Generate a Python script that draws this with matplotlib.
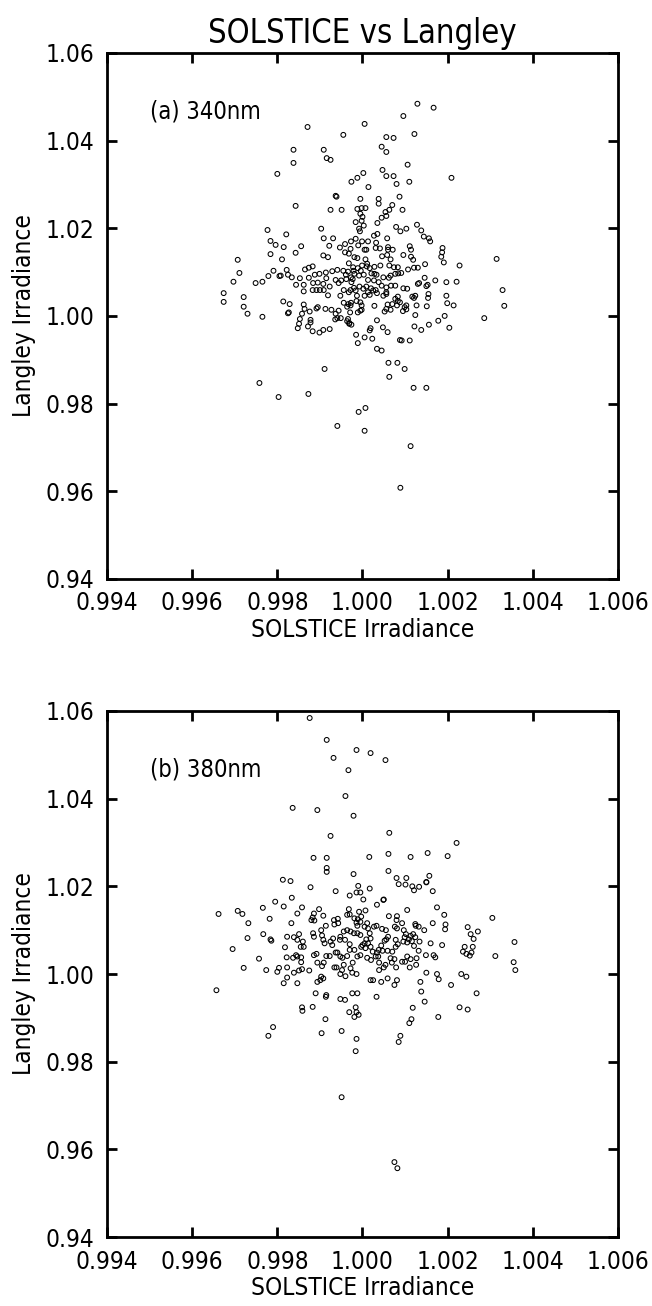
import numpy as np
import matplotlib
matplotlib.use("Agg")
import matplotlib.pyplot as plt
from matplotlib import font_manager

# pick a narrow sans if one is installed
names = {f.name for f in font_manager.fontManager.ttflist}
if "Liberation Sans Narrow" in names:
    plt.rcParams['font.family'] = ['Liberation Sans Narrow', 'DejaVu Sans']
else:
    plt.rcParams['font.family'] = ['DejaVu Sans']
    plt.rcParams['font.stretch'] = 'condensed'

# axis ticks
x_ticks = [0.994, 0.996, 0.998, 1.000, 1.002, 1.004, 1.006]
x_labels = ['0.994', '0.996', '0.998', '1.000', '1.002', '1.004', '1.006']
y_ticks = [0.94, 0.96, 0.98, 1.00, 1.02, 1.04, 1.06]
y_labels = ['0.94', '0.96', '0.98', '1.00', '1.02', '1.04', '1.06']

# (a) 340nm : (SOLSTICE, Langley) pairs, dense core
pts_340_core = [
    (0.99821, 1.0186), (0.99815, 1.0157), (0.99843, 1.0144), (0.99856, 1.0159), (0.99903, 1.0199),
    (0.99909, 1.0177), (0.99931, 1.0177), (0.99922, 1.0160), (0.99908, 1.0138), (0.99919, 1.0134),
    (0.99947, 1.0156), (0.99959, 1.0164), (0.99973, 1.0170), (0.99984, 1.0176), (0.99972, 1.0153),
    (0.99959, 1.0145), (0.99968, 1.0142), (0.99981, 1.0134), (0.99988, 1.0132), (0.99992, 1.0199),
    (0.99994, 1.0193), (1.00003, 1.0206), (0.99999, 1.0170), (1.00013, 1.0170), (0.99990, 1.0161),
    (1.00005, 1.0151), (1.00009, 1.0151), (1.00027, 1.0183), (1.00035, 1.0187), (1.00032, 1.0167),
    (1.00031, 1.0155), (1.00041, 1.0154), (1.00058, 1.0177), (1.00060, 1.0157), (1.00060, 1.0151),
    (1.00071, 1.0151), (1.00046, 1.0136), (1.00058, 1.0139), (1.00066, 1.0129), (1.00079, 1.0203),
    (1.00089, 1.0193), (1.00103, 1.0199), (1.00128, 1.0208), (1.00138, 1.0195), (1.00144, 1.0181),
    (1.00156, 1.0177), (1.00159, 1.0170), (1.00111, 1.0159), (1.00114, 1.0151), (1.00096, 1.0139),
    (1.00114, 1.0135), (1.00119, 1.0128), (1.00188, 1.0155), (1.00187, 1.0145), (1.00185, 1.0135),
    (1.00191, 1.0122), (1.00228, 1.0115), (1.00147, 1.0118), (1.00130, 1.0110), (1.00121, 1.0110),
    (1.00107, 1.0106), (1.00083, 1.0111), (1.00074, 1.0111), (1.00063, 1.0115), (1.00042, 1.0115),
    (1.00028, 1.0112), (1.00011, 1.0119), (1.00017, 1.0109), (1.00007, 1.0129), (0.99968, 1.0120),
    (0.99999, 1.0115), (0.99989, 1.0109), (0.99978, 1.0111), (0.99966, 1.0101), (0.99961, 1.0094),
    (0.99955, 1.0103), (0.99941, 1.0105), (0.99929, 1.0102), (0.99914, 1.0099), (0.99899, 1.0096),
    (0.99883, 1.0113), (0.99874, 1.0110), (0.99865, 1.0106), (0.99822, 1.0105), (0.99825, 1.0094),
    (0.99834, 1.0088), (0.99853, 1.0086), (0.99874, 1.0087), (0.99888, 1.0094), (0.99915, 1.0086),
    (0.99908, 1.0073), (0.99895, 1.0076), (0.99884, 1.0075), (0.99862, 1.0071), (0.99844, 1.0071),
    (0.99862, 1.0056), (0.99883, 1.0059), (0.99892, 1.0059), (0.99900, 1.0059), (0.99909, 1.0059),
    (0.99919, 1.0047), (0.99923, 1.0067), (0.99937, 1.0082), (0.99950, 1.0081), (0.99944, 1.0075),
    (0.99962, 1.0084), (0.99973, 1.0088), (0.99974, 1.0077), (0.99977, 1.0084), (0.99979, 1.0103),
    (0.99981, 1.0096), (0.99996, 1.0103), (0.99992, 1.0092), (1.00003, 1.0094), (1.00010, 1.0113),
    (1.00021, 1.0097), (1.00028, 1.0096), (1.00033, 1.0094), (1.00013, 1.0082), (1.00027, 1.0081),
    (1.00009, 1.0067), (1.00002, 1.0062), (1.00020, 1.0063), (1.00025, 1.0058), (1.00031, 1.0059),
    (1.00013, 1.0054), (1.00017, 1.0048), (1.00005, 1.0046), (0.99993, 1.0067), (0.99980, 1.0064),
    (0.99984, 1.0058), (0.99972, 1.0059), (0.99968, 1.0054), (0.99956, 1.0059), (0.99948, 1.0046),
    (0.99956, 1.0030), (0.99967, 1.0027), (0.99973, 1.0030), (0.99986, 1.0034), (0.99995, 1.0031),
    (0.99998, 1.0024), (0.99995, 1.0012), (0.99989, 1.0008), (0.99998, 1.0014), (0.99972, 1.0024),
    (0.99964, 1.0021), (0.99971, 1.0008), (0.99987, 1.0046), (1.00045, 1.0069), (1.00049, 1.0088),
    (1.00062, 1.0087), (1.00066, 1.0092), (1.00077, 1.0096), (1.00084, 1.0097), (1.00091, 1.0098),
    (1.00067, 1.0069), (1.00077, 1.0069), (1.00056, 1.0065), (1.00056, 1.0054), (1.00056, 1.0050),
    (1.00049, 1.0046), (1.00034, 1.0052), (1.00038, 1.0077), (1.00096, 1.0063), (1.00105, 1.0062),
    (1.00083, 1.0044), (1.00077, 1.0039), (1.00083, 1.0034), (1.00088, 1.0031), (1.00081, 1.0024),
    (1.00070, 1.0027), (1.00059, 1.0026), (1.00056, 1.0016), (1.00066, 1.0014), (1.00052, 1.0010),
    (1.00028, 1.0023), (1.00099, 1.0020), (1.00103, 1.0024), (1.00095, 1.0011), (1.00103, 1.0015),
    (1.00121, 1.0041), (1.00124, 1.0046), (1.00117, 1.0044), (1.00130, 1.0073), (1.00133, 1.0075),
    (1.00146, 1.0087), (1.00153, 1.0071), (1.00150, 1.0068), (1.00171, 1.0081), (1.00197, 1.0077),
    (1.00221, 1.0078), (1.00155, 1.0050), (1.00154, 1.0041), (1.00151, 1.0022), (1.00197, 1.0046),
    (1.00199, 1.0029), (1.00214, 1.0024), (1.00127, 1.0024), (1.00124, 1.0002), (1.00156, 0.9980),
    (1.00178, 0.9989), (1.00193, 1.0000), (1.00204, 0.9973), (1.00122, 0.9976), (1.00138, 0.9968),
    (1.00111, 0.9944), (1.00088, 0.9945), (1.00092, 0.9944), (1.00059, 0.9963), (1.00048, 0.9974),
    (1.00034, 0.9990), (1.00023, 0.9948), (1.00019, 0.9972), (1.00017, 0.9967), (1.00005, 0.9951),
    (0.99989, 0.9938), (0.99985, 0.9957), (0.99969, 0.9982), (0.99966, 0.9993), (0.99964, 0.9988),
    (0.99941, 0.9995), (0.99949, 0.9995), (0.99936, 0.9992), (0.99937, 1.0005), (0.99944, 1.0012),
    (0.99927, 1.0014), (0.99913, 1.0016), (0.99895, 1.0020), (0.99892, 1.0017), (0.99876, 1.0010),
    (0.99862, 1.0026), (0.99864, 1.0016), (0.99858, 1.0005), (0.99853, 0.9993), (0.99851, 0.9982),
    (0.99848, 0.9972), (0.99872, 0.9976), (0.99878, 0.9985), (0.99878, 0.9991), (0.99883, 0.9965),
    (0.99899, 0.9962), (0.99908, 0.9968), (0.99923, 0.9970), (0.99827, 1.0008), (0.99825, 1.0006),
    (0.99829, 1.0027), (0.99814, 1.0033), (0.99808, 1.0092), (0.99811, 1.0129), (1.00034, 0.9925),
    (1.00045, 0.9921), (0.99974, 0.9980), (0.99969, 0.9984),
]

# (a) 340nm : outlying points
pts_340_outer = [
    (0.99871, 1.0431), (0.99955, 1.0413), (0.99838, 1.0379), (0.99909, 1.0379), (0.99916, 1.0360),
    (0.99925, 1.0356), (0.99838, 1.0349), (0.99800, 1.0324), (0.99937, 1.0274), (0.99939, 1.0272),
    (0.99843, 1.0251), (0.99925, 1.0242), (0.99951, 1.0242), (0.99777, 1.0196), (0.99784, 1.0171),
    (0.99796, 1.0162), (0.99784, 1.0141), (0.99707, 1.0128), (0.99711, 1.0098), (0.99697, 1.0078),
    (0.99674, 1.0052), (0.99721, 1.0043), (0.99749, 1.0075), (0.99765, 1.0078), (0.99779, 1.0091),
    (0.99791, 1.0103), (0.99805, 1.0091), (1.00129, 1.0484), (1.00167, 1.0475), (1.00096, 1.0456),
    (1.00005, 1.0438), (1.00056, 1.0408), (1.00073, 1.0406), (1.00122, 1.0415), (1.00045, 1.0386),
    (1.00056, 1.0374), (1.00106, 1.0345), (1.00047, 1.0333), (1.00002, 1.0326), (0.99988, 1.0315),
    (0.99974, 1.0306), (1.00056, 1.0319), (1.00073, 1.0319), (1.00080, 1.0301), (1.00110, 1.0306),
    (1.00014, 1.0294), (1.00209, 1.0315), (1.00087, 1.0272), (1.00038, 1.0267), (1.00038, 1.0256),
    (0.99995, 1.0267), (0.99988, 1.0244), (0.99998, 1.0246), (1.00007, 1.0246), (1.00070, 1.0253),
    (1.00054, 1.0237), (1.00056, 1.0228), (1.00063, 1.0242), (1.00094, 1.0242), (0.99995, 1.0233),
    (1.00000, 1.0226), (0.99998, 1.0217), (0.99984, 1.0214), (1.00045, 1.0224), (1.00035, 1.0212),
    (1.00315, 1.0130), (1.00329, 1.0059), (1.00333, 1.0023), (1.00286, 0.9995), (0.99674, 1.0032),
    (0.99721, 1.0021), (0.99730, 1.0005), (0.99765, 0.9998), (0.99911, 0.9879), (0.99758, 0.9847),
    (0.99803, 0.9815), (0.99873, 0.9822), (0.99941, 0.9749), (0.99991, 0.9781), (1.00063, 0.9861),
    (1.00120, 0.9836), (1.00150, 0.9836), (1.00082, 0.9893), (1.00099, 0.9879), (1.00061, 0.9893),
    (1.00007, 0.9790), (1.00005, 0.9738), (1.00113, 0.9703), (1.00089, 0.9608),
]

# (b) 380nm : dense core
pts_380_core = [
    (0.99813, 1.0215), (0.99831, 1.0212), (0.99878, 1.0198), (0.99937, 1.0189), (0.99970, 1.0179),
    (0.99990, 1.0201), (0.99986, 1.0186), (0.99995, 1.0186), (1.00017, 1.0195), (1.00002, 1.0170),
    (1.00050, 1.0170), (1.00049, 1.0169), (1.00034, 1.0158), (1.00085, 1.0205), (1.00101, 1.0204),
    (1.00117, 1.0200), (1.00133, 1.0199), (1.00150, 1.0209), (1.00121, 1.0191), (1.00165, 1.0189),
    (0.99834, 1.0174), (0.99795, 1.0165), (0.99766, 1.0151), (0.99815, 1.0154), (0.99858, 1.0152),
    (0.99847, 1.0138), (0.99782, 1.0126), (0.99833, 1.0116), (0.99886, 1.0138), (0.99883, 1.0129),
    (0.99880, 1.0123), (0.99887, 1.0122), (0.99898, 1.0148), (0.99908, 1.0133), (0.99914, 1.0110),
    (0.99933, 1.0123), (0.99942, 1.0126), (0.99943, 1.0116), (0.99934, 1.0113), (0.99968, 1.0148),
    (0.99964, 1.0135), (0.99970, 1.0136), (0.99992, 1.0142), (0.99981, 1.0127), (0.99986, 1.0117),
    (0.99989, 1.0125), (0.99988, 1.0110), (1.00007, 1.0145), (0.99997, 1.0131), (0.99995, 1.0119),
    (1.00005, 1.0108), (1.00011, 1.0116), (1.00013, 1.0104), (1.00017, 1.0093), (1.00033, 1.0110),
    (1.00027, 1.0108), (1.00046, 1.0103), (1.00055, 1.0100), (1.00062, 1.0132), (1.00081, 1.0132),
    (1.00080, 1.0123), (1.00076, 1.0108), (1.00081, 1.0104), (1.00093, 1.0116), (1.00105, 1.0146),
    (1.00124, 1.0114), (1.00125, 1.0110), (1.00132, 1.0108), (1.00145, 1.0100), (1.00165, 1.0116),
    (1.00195, 1.0113), (1.00194, 1.0102), (1.00175, 1.0152), (1.00192, 1.0135), (0.99767, 1.0091),
    (0.99784, 1.0079), (0.99786, 1.0076), (0.99823, 1.0085), (0.99818, 1.0061), (0.99839, 1.0084),
    (0.99847, 1.0078), (0.99851, 1.0091), (0.99860, 1.0074), (0.99855, 1.0062), (0.99862, 1.0062),
    (0.99884, 1.0093), (0.99886, 1.0085), (0.99903, 1.0100), (0.99905, 1.0088), (0.99908, 1.0078),
    (0.99911, 1.0070), (0.99925, 1.0074), (0.99931, 1.0081), (0.99929, 1.0066), (0.99948, 1.0085),
    (0.99956, 1.0097), (0.99964, 1.0100), (0.99972, 1.0097), (0.99980, 1.0093), (0.99947, 1.0078),
    (0.99959, 1.0078), (0.99970, 1.0068), (0.99970, 1.0055), (0.99988, 1.0093), (0.99995, 1.0089),
    (1.00009, 1.0079), (1.00013, 1.0070), (1.00019, 1.0081), (1.00005, 1.0070), (1.00000, 1.0066),
    (0.99997, 1.0062), (1.00007, 1.0059), (1.00019, 1.0062), (1.00024, 1.0051), (1.00034, 1.0049),
    (1.00038, 1.0055), (1.00044, 1.0065), (1.00052, 1.0076), (1.00056, 1.0079), (1.00060, 1.0085),
    (1.00047, 1.0053), (1.00059, 1.0053), (1.00070, 1.0051), (1.00078, 1.0062), (1.00083, 1.0068),
    (1.00078, 1.0078), (1.00097, 1.0100), (1.00102, 1.0091), (1.00099, 1.0084), (1.00109, 1.0079),
    (1.00113, 1.0087), (1.00119, 1.0091), (1.00105, 1.0072), (1.00096, 1.0074), (1.00116, 1.0075),
    (1.00124, 1.0084), (1.00134, 1.0074), (1.00121, 1.0064), (1.00132, 1.0053), (1.00160, 1.0070),
    (1.00187, 1.0066), (1.00247, 1.0107), (1.00254, 1.0091), (1.00271, 1.0097), (1.00261, 1.0080),
    (1.00240, 1.0062), (1.00259, 1.0062), (1.00236, 1.0051), (1.00244, 1.0046), (1.00252, 1.0042),
    (1.00256, 1.0049), (0.99757, 1.0035), (0.99774, 1.0009), (0.99800, 1.0005), (0.99804, 1.0014),
    (0.99822, 1.0038), (0.99837, 1.0037), (0.99823, 1.0015), (0.99844, 1.0043), (0.99847, 1.0040),
    (0.99856, 1.0038), (0.99856, 1.0027), (0.99858, 1.0011), (0.99851, 1.0008), (0.99839, 1.0003),
    (0.99823, 0.9992), (0.99815, 0.9979), (0.99847, 0.9979), (0.99875, 1.0008), (0.99886, 1.0043),
    (0.99892, 1.0046), (0.99894, 1.0026), (0.99905, 1.0018), (0.99909, 1.0026), (0.99915, 1.0041),
    (0.99923, 1.0041), (0.99937, 1.0049), (0.99941, 1.0049), (0.99948, 1.0040), (0.99953, 1.0037),
    (0.99964, 1.0041), (0.99956, 1.0021), (0.99934, 1.0015), (0.99939, 1.0015), (0.99952, 1.0009),
    (0.99948, 1.0000), (0.99960, 0.9995), (0.99972, 1.0013), (0.99976, 1.0003), (0.99986, 1.0000),
    (0.99977, 1.0026), (0.99981, 1.0055), (0.99988, 1.0040), (0.99995, 1.0043), (1.00011, 1.0037),
    (1.00020, 1.0032), (1.00031, 1.0040), (1.00037, 1.0040), (1.00039, 1.0009), (1.00050, 1.0015),
    (1.00054, 1.0021), (1.00039, 1.0026), (1.00066, 1.0036), (1.00069, 1.0026), (1.00075, 1.0034),
    (1.00079, 1.0015), (1.00093, 1.0028), (1.00100, 1.0028), (1.00105, 1.0040), (1.00113, 1.0034),
    (1.00111, 1.0015), (1.00127, 1.0036), (1.00126, 1.0021), (1.00149, 1.0043), (1.00167, 1.0043),
    (1.00171, 1.0038), (1.00150, 1.0003), (1.00175, 1.0000), (1.00179, 0.9988), (1.00136, 0.9982),
    (1.00138, 0.9960), (1.00146, 0.9937), (1.00208, 0.9975), (1.00232, 1.0000), (1.00244, 0.9994),
    (1.00268, 0.9956), (1.00081, 0.9986), (1.00059, 0.9990), (1.00075, 0.9975), (1.00044, 0.9982),
    (1.00019, 0.9986), (1.00025, 0.9986), (0.99988, 0.9956), (0.99976, 0.9956), (0.99948, 0.9943),
    (0.99959, 0.9941), (0.99915, 0.9952), (0.99914, 0.9948), (0.99901, 0.9986), (0.99903, 0.9994),
    (0.99908, 0.9990), (0.99894, 0.9982), (0.99890, 0.9956), (0.99858, 0.9924), (0.99883, 0.9925),
    (0.99984, 0.9924), (1.00033, 0.9948), (1.00118, 0.9923), (1.00228, 0.9924), (1.00247, 0.9919),
]

# (b) 380nm : outlying points
pts_380_outer = [
    (0.99876, 1.0584), (0.99916, 1.0534), (0.99986, 1.0511), (0.99932, 1.0493), (0.99967, 1.0465),
    (0.99960, 1.0406), (0.99836, 1.0379), (0.99894, 1.0374), (0.99979, 1.0361), (0.99925, 1.0315),
    (0.99885, 1.0265), (0.99916, 1.0265), (0.99916, 1.0242), (0.99916, 1.0233), (0.99979, 1.0228),
    (0.99662, 1.0137), (0.99707, 1.0144), (0.99718, 1.0137), (0.99732, 1.0116), (0.99730, 1.0082),
    (1.00019, 1.0504), (1.00054, 1.0488), (1.00063, 1.0322), (1.00221, 1.0299), (1.00153, 1.0276),
    (1.00200, 1.0269), (1.00016, 1.0267), (1.00061, 1.0274), (1.00113, 1.0267), (1.00061, 1.0235),
    (1.00080, 1.0219), (1.00103, 1.0219), (1.00157, 1.0224), (1.00150, 1.0210), (1.00305, 1.0128),
    (0.99695, 1.0057), (0.99721, 1.0014), (0.99657, 0.9963), (0.99790, 0.9879), (0.99779, 0.9859),
    (0.99859, 0.9916), (0.99913, 0.9897), (0.99904, 0.9865), (0.99951, 0.9870), (0.99951, 0.9719),
    (0.99986, 0.9852), (0.99984, 0.9824), (0.99986, 0.9913), (0.99991, 0.9907), (0.99981, 0.9902),
    (0.99969, 0.9913), (1.00357, 1.0073), (1.00312, 1.0041), (1.00355, 1.0027), (1.00359, 1.0009),
    (1.00178, 0.9902), (1.00115, 0.9897), (1.00110, 0.9888), (1.00089, 0.9859), (1.00085, 0.9845),
    (1.00075, 0.9571), (1.00082, 0.9557),
]

panels = [
    ("(a) 340nm", pts_340_core + pts_340_outer, 0.5567),
    ("(b) 380nm", pts_380_core + pts_380_outer, 0.0528),
]

fig = plt.figure(figsize=(6.52, 13.06), dpi=100)

for i, (label, pts, bottom) in enumerate(panels):
    ax = fig.add_axes([0.1641, bottom, 0.7837, 0.4028])
    xs = [p[0] for p in pts]
    ys = [p[1] for p in pts]
    ax.scatter(xs, ys, s=12, facecolors='none', edgecolors='black', linewidths=0.75)
    ax.set_xlim(0.994, 1.006)
    ax.set_ylim(0.94, 1.06)
    ax.set_xticks(x_ticks)
    ax.set_xticklabels(x_labels)
    ax.set_yticks(y_ticks)
    ax.set_yticklabels(y_labels)
    ax.tick_params(direction='in', length=7, width=2, top=True, right=True,
                   labelsize=17.5, pad=9)
    for sp in ax.spines.values():
        sp.set_linewidth(2)
    ax.set_xlabel('SOLSTICE Irradiance', fontsize=17.5, labelpad=2)
    ax.set_ylabel('Langley Irradiance', fontsize=17.5, labelpad=7)
    ax.text(0.084, 0.888, label, transform=ax.transAxes, fontsize=17, va='center')
    if i == 0:
        ax.set_title('SOLSTICE vs Langley', fontsize=23.5, pad=7)

fig.savefig('out.png', dpi=100)
